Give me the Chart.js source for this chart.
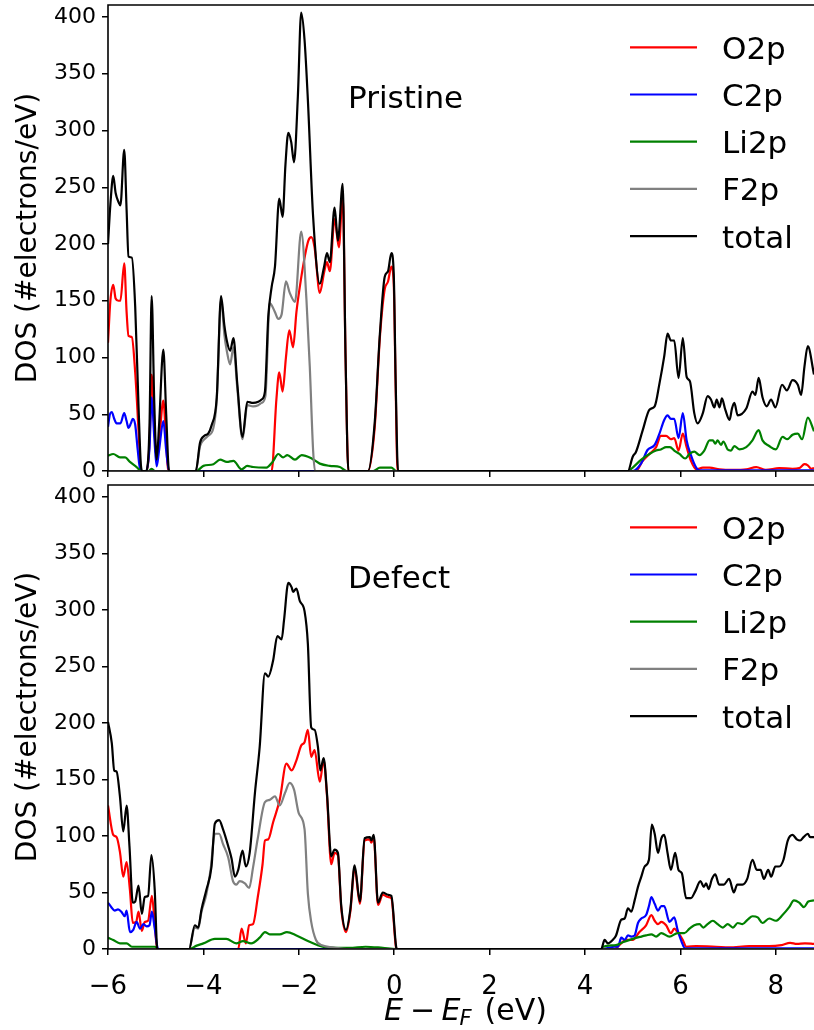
<!DOCTYPE html>
<html>
<head>
<meta charset="utf-8">
<script src="https://cdn.jsdelivr.net/npm/chart.js@4.4.0/dist/chart.umd.min.js"></script>
<style>
  html, body { margin: 0; padding: 0; background: #fff; }
  #wrap { position: relative; width: 814px; height: 1030px; overflow: hidden; }
  canvas { position: absolute; left: 0; }
  #top { top: 0; }
  #bottom { top: 478px; }
</style>
</head>
<body>
<div id="wrap">
  <canvas id="top" width="814" height="488"></canvas>
  <canvas id="bottom" width="814" height="552"></canvas>
</div>
<script>
const seriesNames = ['O2p', 'C2p', 'Li2p', 'F2p', 'total'];
const seriesColors = ['#ff0000', '#0000ff', '#008000', '#808080', '#000000'];
const xTicks = [-6, -4, -2, 0, 2, 4, 6, 8];
const yTicks = [0, 50, 100, 150, 200, 250, 300, 350, 400];
const xRange = [-6, 8.8];
const yRange = [0, 410.6];

// Pristine cell, [E - E_F, DOS]
const pristineO2p = [[-6, 113], [-5.95, 150], [-5.89, 164], [-5.84, 152], [-5.78, 150], [-5.74, 150], [-5.66, 183], [-5.61, 140], [-5.57, 119], [-5.5, 118], [-5.43, 87], [-5.36, 36], [-5.31, 0], [-5.2, 0], [-5.13, 25], [-5.085, 85], [-5.03, 40], [-4.98, 9], [-4.93, 25], [-4.84, 62], [-4.78, 25], [-4.74, 0], [-2.57, 0], [-2.47, 63], [-2.41, 87], [-2.34, 70], [-2.27, 100], [-2.2, 124], [-2.12, 109], [-2.05, 140], [-1.98, 162], [-1.87, 190], [-1.8, 203], [-1.74, 206], [-1.67, 197], [-1.56, 157], [-1.47, 175], [-1.41, 184], [-1.35, 176], [-1.25, 222], [-1.16, 197], [-1.08, 244], [-1.02, 100], [-0.96, 0], [-0.55, 0], [-0.41, 38], [-0.3, 118], [-0.2, 160], [-0.13, 167], [-0.06, 180], [-0.01, 165], [0.03, 75], [0.07, 0], [5.07, 0], [5.21, 9], [5.35, 15], [5.49, 21], [5.59, 31], [5.7, 31], [5.8, 28], [5.87, 29], [5.96, 18], [6.05, 33], [6.13, 21], [6.22, 9], [6.33, 1.5], [6.47, 3], [6.61, 3], [6.82, 1.5], [7.1, 1], [7.38, 1.5], [7.59, 3.5], [7.79, 1], [8.07, 2.5], [8.35, 2], [8.49, 2.5], [8.6, 6], [8.67, 5], [8.74, 2], [8.8, 2.5]];
const pristineC2p = [[-6, 39], [-5.96, 50], [-5.92, 52], [-5.87, 46], [-5.82, 42], [-5.74, 42], [-5.66, 51], [-5.61, 44], [-5.57, 38], [-5.52, 42], [-5.48, 46], [-5.43, 41], [-5.38, 20], [-5.32, 0], [-5.2, 0], [-5.13, 20], [-5.085, 65], [-5.03, 30], [-4.98, 4], [-4.93, 18], [-4.84, 44], [-4.78, 18], [-4.72, 0], [5.0, 0], [5.18, 7], [5.31, 18.5], [5.46, 23], [5.56, 33], [5.66, 45], [5.73, 49], [5.8, 46], [5.87, 46], [5.96, 29], [6.05, 51], [6.13, 27], [6.22, 14], [6.33, 3], [6.4, 0.5], [8.8, 0.5]];
const pristineLi2p = [[-6, 13.6], [-5.89, 15], [-5.75, 12], [-5.64, 12], [-5.54, 8], [-5.4, 3.5], [-5.3, 0], [-5.15, 0], [-5.09, 2], [-5.02, 0], [-4.15, 0], [-4.0, 4.5], [-3.79, 6], [-3.65, 10], [-3.51, 8], [-3.37, 9], [-3.2, 1.5], [-3.08, 4.5], [-2.96, 3.5], [-2.68, 3], [-2.55, 8], [-2.43, 15], [-2.33, 12], [-2.24, 14], [-2.08, 10], [-1.94, 14], [-1.73, 11], [-1.56, 6.5], [-1.35, 4.5], [-1.14, 3.5], [-1.0, 0], [-0.44, 0], [-0.3, 3], [-0.06, 3], [0.04, 0], [4.9, 0], [5.0, 3], [5.18, 10], [5.35, 15], [5.49, 18], [5.59, 19], [5.7, 21], [5.78, 21], [5.87, 18], [5.98, 15], [6.1, 11], [6.19, 15], [6.29, 17], [6.4, 14], [6.5, 18], [6.61, 27], [6.68, 27], [6.73, 24], [6.78, 27], [6.85, 23], [6.9, 26], [6.99, 19], [7.06, 18], [7.13, 22], [7.24, 19], [7.38, 21], [7.51, 27], [7.64, 36], [7.72, 27], [7.86, 22], [8.0, 19], [8.14, 30], [8.24, 28], [8.35, 32], [8.46, 33], [8.55, 28], [8.67, 47], [8.8, 35]];
const pristineF2p = [[-6, 0], [-4.16, 0], [-4.07, 22], [-3.98, 28], [-3.9, 31], [-3.79, 38], [-3.72, 63], [-3.63, 151], [-3.56, 120], [-3.51, 106], [-3.44, 94], [-3.37, 109], [-3.29, 73], [-3.18, 28], [-3.08, 58], [-2.96, 57], [-2.85, 58], [-2.78, 60], [-2.7, 66], [-2.61, 148], [-2.5, 140], [-2.43, 134], [-2.36, 138], [-2.27, 167], [-2.19, 157], [-2.08, 149], [-1.95, 211], [-1.84, 151], [-1.77, 92], [-1.7, 18], [-1.66, 0], [8.8, 0]];
const pristineTotal = [[-6, 200], [-5.95, 235], [-5.89, 260], [-5.84, 245], [-5.78, 237], [-5.74, 234], [-5.66, 283], [-5.61, 230], [-5.57, 189], [-5.5, 188], [-5.43, 145], [-5.36, 57], [-5.31, 5], [-5.28, 0], [-5.2, 0], [-5.13, 40], [-5.085, 154], [-5.03, 60], [-4.98, 10], [-4.93, 40], [-4.84, 107], [-4.78, 50], [-4.72, 0], [-4.16, 0], [-4.07, 25], [-3.98, 31], [-3.9, 33], [-3.83, 40], [-3.72, 65], [-3.63, 154], [-3.56, 128], [-3.51, 115], [-3.44, 106], [-3.37, 117], [-3.29, 77], [-3.18, 30], [-3.08, 61], [-2.96, 60], [-2.85, 61], [-2.78, 63], [-2.71, 70], [-2.64, 136], [-2.57, 162], [-2.5, 180], [-2.41, 240], [-2.34, 224], [-2.28, 270], [-2.22, 298], [-2.16, 290], [-2.1, 272], [-2.02, 330], [-1.95, 404], [-1.88, 380], [-1.81, 327], [-1.7, 224], [-1.56, 165], [-1.47, 180], [-1.41, 192], [-1.35, 184], [-1.25, 232], [-1.18, 203], [-1.08, 253], [-1.02, 100], [-0.96, 0], [-0.55, 0], [-0.41, 42], [-0.3, 121], [-0.2, 171], [-0.13, 176], [-0.06, 192], [-0.01, 174], [0.03, 80], [0.08, 0], [4.9, 0], [5.0, 12.6], [5.07, 17], [5.21, 36], [5.35, 54], [5.46, 57], [5.56, 77], [5.66, 101], [5.73, 121], [5.8, 115], [5.87, 115], [5.96, 82], [6.05, 117], [6.13, 83], [6.2, 79], [6.29, 51], [6.36, 42], [6.47, 51], [6.57, 66], [6.64, 63], [6.71, 56], [6.76, 63], [6.82, 56], [6.87, 64], [6.94, 54], [7.03, 45], [7.08, 55], [7.13, 60], [7.2, 49], [7.38, 55], [7.51, 70], [7.57, 67], [7.64, 82], [7.72, 65], [7.81, 57], [7.9, 63], [7.99, 56], [8.13, 76], [8.23, 71], [8.35, 80], [8.46, 76], [8.53, 67], [8.6, 92], [8.67, 110], [8.8, 85]];

// Defect cell, [E - E_F, DOS]
const defectO2p = [[-6, 127], [-5.89, 101], [-5.82, 99], [-5.75, 86], [-5.68, 64], [-5.61, 77], [-5.54, 52], [-5.48, 23], [-5.41, 24], [-5.36, 33], [-5.29, 16], [-5.23, 24], [-5.16, 25], [-5.08, 47], [-5.02, 22], [-4.97, 0], [-3.27, 0], [-3.2, 18], [-3.11, 5], [-3.04, 21], [-2.96, 22], [-2.86, 46], [-2.76, 75], [-2.71, 96], [-2.64, 97], [-2.54, 112], [-2.4, 132], [-2.26, 164], [-2.15, 158], [-2.05, 167], [-1.95, 180], [-1.88, 183], [-1.81, 194], [-1.74, 170], [-1.67, 176], [-1.56, 148], [-1.48, 167], [-1.41, 136], [-1.32, 75], [-1.25, 85], [-1.18, 83], [-1.11, 36], [-1.01, 15], [-0.92, 33], [-0.83, 72], [-0.72, 40], [-0.62, 96], [-0.51, 97], [-0.48, 94], [-0.43, 99], [-0.34, 39], [-0.24, 48], [-0.13, 46], [-0.06, 45], [0.04, 1], [0.06, 0], [4.62, 0], [4.72, 3.5], [4.86, 8], [5.0, 8], [5.14, 15], [5.28, 21], [5.39, 30], [5.46, 25], [5.53, 22], [5.6, 24], [5.7, 21], [5.8, 14], [5.87, 18], [5.94, 15], [6.05, 8], [6.12, 2], [6.33, 2.5], [6.75, 2], [7.02, 1.5], [7.44, 2.5], [7.86, 2.5], [8.12, 3.5], [8.3, 5.5], [8.44, 4.5], [8.61, 5], [8.8, 4.5]];
const defectC2p = [[-6, 41], [-5.93, 37], [-5.86, 34], [-5.79, 35], [-5.72, 33], [-5.65, 29], [-5.61, 34], [-5.54, 15], [-5.47, 17], [-5.4, 24], [-5.33, 18], [-5.26, 22], [-5.19, 20], [-5.13, 21], [-5.08, 33], [-5.02, 18], [-4.95, 0], [4.38, 0], [4.62, 2], [4.69, 2], [4.76, 10], [4.83, 8], [4.9, 12], [4.97, 11], [5.04, 12], [5.11, 23], [5.18, 27], [5.28, 30], [5.34, 38], [5.39, 46], [5.46, 40], [5.53, 34], [5.6, 38], [5.66, 38], [5.77, 24], [5.87, 28], [5.94, 17], [6.01, 8], [6.1, 0.5], [8.8, 0.5]];
const defectLi2p = [[-6, 10], [-5.89, 8], [-5.75, 5], [-5.61, 5], [-5.5, 2], [-5.26, 2], [-5.02, 2], [-4.95, 0], [-4.3, 0], [-4.14, 3], [-4.0, 5], [-3.76, 9], [-3.52, 9], [-3.31, 5], [-3.17, 7], [-3.0, 5], [-2.82, 10], [-2.71, 15], [-2.61, 13], [-2.4, 13], [-2.25, 15], [-2.05, 12], [-1.81, 7], [-1.64, 4], [-1.43, 1.5], [-0.94, 1], [-0.6, 2], [-0.24, 1], [0.04, 0], [4.34, 0], [4.38, 2], [4.65, 3.5], [4.79, 6], [5.0, 9], [5.18, 11], [5.28, 12], [5.39, 13], [5.49, 11], [5.6, 14], [5.77, 11], [5.94, 14], [6.08, 14], [6.19, 18], [6.29, 21], [6.4, 22], [6.48, 19], [6.57, 22], [6.68, 25], [6.78, 22], [6.89, 19], [6.99, 22], [7.1, 19], [7.2, 23], [7.3, 22], [7.41, 26], [7.51, 29], [7.62, 28], [7.72, 23], [7.86, 27], [8.0, 25], [8.14, 30], [8.28, 37], [8.38, 43], [8.49, 41], [8.59, 37], [8.68, 42], [8.8, 43]];
const defectF2p = [[-6, 0], [-4.3, 0], [-4.18, 19], [-4.11, 18], [-4.04, 33], [-3.94, 48], [-3.85, 70], [-3.76, 102], [-3.67, 102], [-3.59, 93], [-3.48, 81], [-3.38, 60], [-3.31, 57], [-3.24, 60], [-3.13, 58], [-3.04, 54], [-2.96, 72], [-2.86, 98], [-2.71, 130], [-2.61, 132], [-2.5, 135], [-2.4, 127], [-2.29, 138], [-2.19, 147], [-2.1, 141], [-2.0, 120], [-1.88, 106], [-1.81, 49], [-1.74, 24], [-1.64, 8], [-1.5, 3], [-1.29, 1.5], [-0.94, 0], [8.8, 0]];
const defectTotal = [[-6, 201], [-5.92, 182], [-5.87, 158], [-5.82, 157], [-5.75, 135], [-5.68, 104], [-5.61, 127], [-5.55, 91], [-5.48, 41], [-5.43, 42], [-5.36, 56], [-5.29, 31], [-5.23, 46], [-5.16, 47], [-5.09, 83], [-5.02, 52], [-4.97, 1], [-4.95, 0], [-4.3, 0], [-4.18, 21], [-4.11, 19], [-4.04, 35], [-3.94, 52], [-3.83, 73], [-3.76, 111], [-3.67, 114], [-3.59, 106], [-3.48, 91], [-3.41, 80], [-3.34, 64], [-3.27, 70], [-3.18, 87], [-3.11, 73], [-3.03, 85], [-2.92, 138], [-2.82, 179], [-2.71, 244], [-2.64, 241], [-2.54, 255], [-2.45, 277], [-2.36, 274], [-2.31, 291], [-2.22, 324], [-2.15, 320], [-2.12, 316], [-2.05, 319], [-1.98, 308], [-1.88, 299], [-1.81, 270], [-1.74, 196], [-1.67, 194], [-1.6, 179], [-1.55, 158], [-1.48, 169], [-1.41, 138], [-1.32, 82], [-1.25, 88], [-1.18, 85], [-1.11, 38], [-1.01, 17], [-0.92, 35], [-0.83, 74], [-0.72, 42], [-0.62, 98], [-0.51, 99], [-0.48, 96], [-0.43, 101], [-0.34, 41], [-0.24, 50], [-0.13, 48], [-0.06, 47], [0.04, 2], [0.06, 0], [4.34, 0], [4.41, 8], [4.48, 5], [4.58, 8], [4.65, 12], [4.76, 26], [4.83, 27], [4.9, 36], [4.97, 33], [5.04, 43], [5.11, 55], [5.18, 64], [5.25, 73], [5.34, 79], [5.4, 110], [5.46, 102], [5.53, 85], [5.6, 98], [5.66, 101], [5.73, 85], [5.8, 70], [5.89, 85], [5.96, 70], [6.03, 67], [6.12, 45], [6.22, 45], [6.31, 51], [6.42, 60], [6.49, 55], [6.54, 58], [6.59, 53], [6.66, 62], [6.73, 66], [6.81, 57], [6.91, 57], [7.02, 62], [7.12, 50], [7.19, 57], [7.3, 57], [7.4, 62], [7.51, 79], [7.6, 70], [7.68, 70], [7.75, 62], [7.84, 70], [7.9, 64], [7.99, 73], [8.07, 73], [8.16, 79], [8.25, 96], [8.35, 101], [8.44, 97], [8.51, 96], [8.58, 99], [8.67, 102], [8.72, 99], [8.8, 99]];

const FONT = 'DejaVu Sans';

function fmtE(v) {
  return (v < 0 ? '\u2212' : '') + Math.abs(v);
}

// axes frame, legend, panel name and y title
function panelDecor(label) {
  return {
    id: 'panelDecor',
    afterDatasetsDraw(chart) {
      const ctx = chart.ctx;
      const a = chart.chartArea;
      ctx.save();
      ctx.strokeStyle = '#000';
      ctx.lineWidth = 1.6;
      ctx.beginPath();
      ctx.moveTo(a.left, a.bottom);
      ctx.lineTo(a.left, a.top);
      ctx.lineTo(chart.width, a.top);
      ctx.moveTo(a.left, a.bottom);
      ctx.lineTo(chart.width, a.bottom);
      ctx.stroke();

      ctx.font = '31px "' + FONT + '"';
      ctx.textBaseline = 'alphabetic';
      ctx.textAlign = 'left';
      seriesNames.forEach((name, i) => {
        const y = a.top + 42.3 + i * 47.2;
        ctx.strokeStyle = seriesColors[i];
        ctx.lineWidth = 2.2;
        ctx.beginPath();
        ctx.moveTo(630, y);
        ctx.lineTo(697, y);
        ctx.stroke();
        ctx.fillStyle = '#000';
        ctx.fillText(name, 722, y + 11.5);
      });
      ctx.fillText(label, 348, a.top + 103);

      ctx.translate(29, (a.top + a.bottom) / 2);
      ctx.rotate(-Math.PI / 2);
      ctx.font = '28px "' + FONT + '"';
      ctx.textAlign = 'center';
      ctx.textBaseline = 'middle';
      ctx.fillText('DOS (#electrons/eV)', 0, 0);
      ctx.restore();
    }
  };
}

// E - E_F (eV) with italic E and subscript F
const xTitle = {
  id: 'xTitle',
  afterDraw(chart) {
    const ctx = chart.ctx;
    const base = chart.height - 10;
    ctx.save();
    ctx.fillStyle = '#000';
    ctx.textBaseline = 'alphabetic';
    ctx.textAlign = 'left';
    ctx.font = 'italic 30px "' + FONT + '"';
    ctx.fillText('E', 384, base);
    ctx.fillText('E', 441.5, base);
    ctx.font = 'italic 21px "' + FONT + '"';
    ctx.fillText('F', 459.5, base + 5);
    ctx.font = '30px "' + FONT + '"';
    ctx.textAlign = 'center';
    ctx.fillText('\u2212', 422.5, base);
    ctx.textAlign = 'left';
    ctx.fillText('(eV)', 484.5, base);
    ctx.restore();
  }
};

function makePanel(id, series, label, opts) {
  const datasets = series.map((pts, i) => ({
    label: seriesNames[i],
    data: pts.map(([x, y]) => ({ x: x, y: y })),
    borderColor: seriesColors[i],
    backgroundColor: seriesColors[i],
    borderWidth: 2.2,
    pointRadius: 0,
    fill: false,
    cubicInterpolationMode: 'monotone',
    order: series.length - 1 - i
  }));

  const gridStyle = {
    drawOnChartArea: false,
    drawTicks: true,
    tickLength: 6,
    color: '#000',
    lineWidth: 1.5
  };

  const plugins = [panelDecor(label)];
  if (opts.xLabels) plugins.push(xTitle);

  return new Chart(document.getElementById(id).getContext('2d'), {
    type: 'line',
    data: { datasets: datasets },
    options: {
      responsive: false,
      animation: false,
      events: [],
      layout: { padding: { top: opts.padTop, left: 0, right: 0, bottom: 0 } },
      plugins: {
        legend: { display: false },
        tooltip: { enabled: false }
      },
      scales: {
        x: {
          type: 'linear',
          min: xRange[0],
          max: xRange[1],
          afterBuildTicks: s => { s.ticks = xTicks.map(v => ({ value: v })); },
          ticks: {
            display: opts.xLabels,
            font: { family: FONT, size: 26 },
            color: '#000',
            padding: 17,
            maxRotation: 0,
            callback: v => fmtE(v)
          },
          grid: gridStyle,
          border: { display: false },
          afterFit: s => { s.height = opts.xHeight; s.paddingLeft = 0; s.paddingRight = 0; }
        },
        y: {
          min: yRange[0],
          max: yRange[1],
          afterBuildTicks: s => { s.ticks = yTicks.map(v => ({ value: v })); },
          ticks: {
            font: { family: FONT, size: 22 },
            color: '#000',
            padding: 6
          },
          grid: gridStyle,
          border: { display: false },
          afterFit: s => { s.width = 108; s.paddingTop = 0; s.paddingBottom = 0; }
        }
      }
    },
    plugins: plugins
  });
}

makePanel('top',
  [pristineO2p, pristineC2p, pristineLi2p, pristineF2p, pristineTotal],
  'Pristine', { padTop: 5, xHeight: 17, xLabels: false });

makePanel('bottom',
  [defectO2p, defectC2p, defectLi2p, defectF2p, defectTotal],
  'Defect', { padTop: 7, xHeight: 81, xLabels: true });
</script>
</body>
</html>
